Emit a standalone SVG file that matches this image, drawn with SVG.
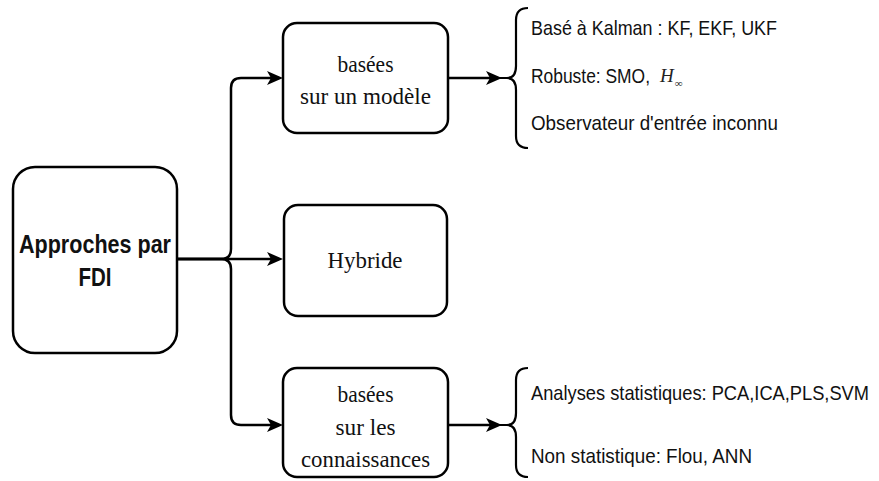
<svg xmlns="http://www.w3.org/2000/svg" width="879" height="481" viewBox="0 0 879 481">
  <defs>
    <marker id="arrow" markerUnits="userSpaceOnUse" markerWidth="18" markerHeight="16" refX="12" refY="8" orient="auto" overflow="visible">
      <path d="M0,1 L16,8 L0,15 L4,8 Z" fill="#000"/>
    </marker>
    <style>
      .box { fill: #fff; stroke: #000; stroke-width: 2.5; }
      .edge { fill: none; stroke: #000; stroke-width: 2.5; }
      .brace { fill: none; stroke: #000; stroke-width: 2.2; }
      .serif { font-family: "Liberation Serif", "Times New Roman", serif; font-size: 24px; fill: #111; text-anchor: middle; }
      .main { font-family: "Liberation Sans", Arial, sans-serif; font-weight: bold; font-size: 25px; fill: #111; text-anchor: middle; }
      .item { font-family: "Liberation Sans Narrow", "Liberation Sans", Arial, sans-serif; font-size: 21px; fill: #111; }
      .math { font-family: "Liberation Serif", "Times New Roman", serif; font-style: italic; fill: #222; }
    </style>
  </defs>

  <rect width="879" height="481" fill="#fff"/>

  <!-- connectors -->
  <g id="connectors">
    <path class="edge" d="M177,259 L221,259 Q231,259 231,249 L231,88 Q231,78 241,78 L279,78" marker-end="url(#arrow)"/>
    <path class="edge" d="M177,259 L279,259" marker-end="url(#arrow)"/>
    <path class="edge" d="M177,259 L221,259 Q231,259 231,269 L231,415 Q231,425 241,425 L279,425" marker-end="url(#arrow)"/>
    <path class="edge" d="M448,78 L498,78" marker-end="url(#arrow)"/>
    <path class="edge" d="M448,425 L498,425" marker-end="url(#arrow)"/>
  </g>

  <!-- root node -->
  <g id="node-fdi">
    <rect class="box" x="13" y="167" width="164" height="186" rx="22"/>
    <text class="main" x="95" y="253" textLength="152" lengthAdjust="spacingAndGlyphs">Approches par</text>
    <text class="main" x="95" y="286" textLength="33" lengthAdjust="spacingAndGlyphs">FDI</text>
  </g>

  <!-- model-based -->
  <g id="node-modele">
    <rect class="box" x="283" y="23" width="165" height="110" rx="14"/>
    <text class="serif" x="365.5" y="72" textLength="56" lengthAdjust="spacingAndGlyphs">basées</text>
    <text class="serif" x="365.5" y="104" textLength="131" lengthAdjust="spacingAndGlyphs">sur un modèle</text>
  </g>

  <!-- hybrid -->
  <g id="node-hybride">
    <rect class="box" x="284" y="205" width="163" height="111" rx="14"/>
    <text class="serif" x="365" y="268" textLength="75" lengthAdjust="spacingAndGlyphs">Hybride</text>
  </g>

  <!-- knowledge-based -->
  <g id="node-connaissances">
    <rect class="box" x="283" y="368" width="165" height="109" rx="14"/>
    <text class="serif" x="365.5" y="402" textLength="56" lengthAdjust="spacingAndGlyphs">basées</text>
    <text class="serif" x="365.5" y="435" textLength="60" lengthAdjust="spacingAndGlyphs">sur les</text>
    <text class="serif" x="365.5" y="467" textLength="129" lengthAdjust="spacingAndGlyphs">connaissances</text>
  </g>

  <!-- model-based methods -->
  <g id="list-modele">
    <path class="brace" d="M498,78 L507,78 Q516,78 516,66 L516,20 Q516,8 528,8 M507,78 Q516,78 516,90 L516,136 Q516,148 528,148"/>
    <text class="item" x="531" y="35" textLength="246" lengthAdjust="spacingAndGlyphs">Basé à Kalman : KF, EKF, UKF</text>
    <text class="item" x="531" y="83" textLength="119" lengthAdjust="spacingAndGlyphs">Robuste: SMO,</text>
    <text class="math" x="660" y="82" font-size="19">H<tspan font-size="11" font-style="normal" dx="1" dy="5">∞</tspan></text>
    <text class="item" x="531" y="130" textLength="247" lengthAdjust="spacingAndGlyphs">Observateur d'entrée inconnu</text>
  </g>

  <!-- knowledge-based methods -->
  <g id="list-connaissances">
    <path class="brace" d="M498,425 L507,425 Q516,425 516,413 L516,380 Q516,368 528,368 M507,425 Q516,425 516,437 L516,465 Q516,477 528,477"/>
    <text class="item" x="531" y="400" textLength="338" lengthAdjust="spacingAndGlyphs">Analyses statistiques: PCA,ICA,PLS,SVM</text>
    <text class="item" x="531" y="463" textLength="221" lengthAdjust="spacingAndGlyphs">Non statistique: Flou, ANN</text>
  </g>
</svg>
